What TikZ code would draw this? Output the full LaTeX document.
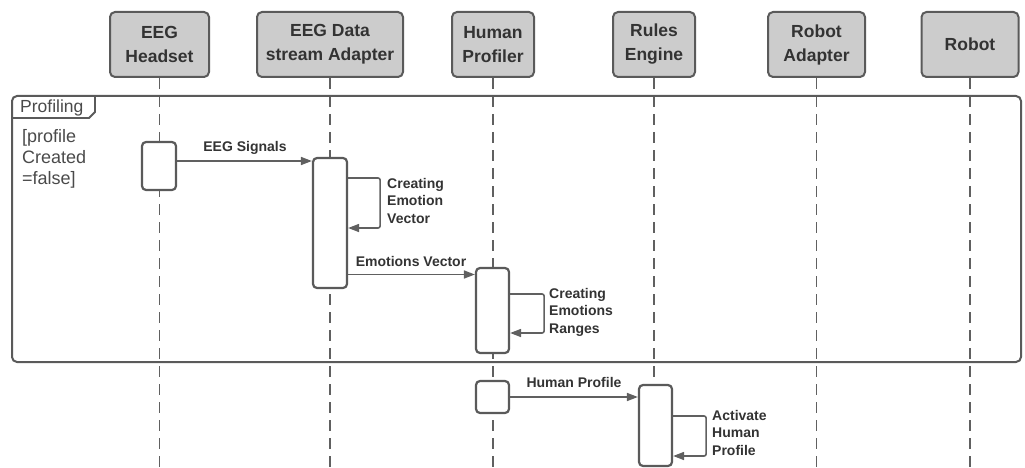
\documentclass[tikz,border=0pt]{standalone}
\usepackage{fontspec}
\setmainfont{Liberation Sans}
\usetikzlibrary{arrows.meta}
\definecolor{hdrfill}{HTML}{CCCCCC}
\definecolor{edgec}{HTML}{5A5A5A}
\definecolor{linec}{HTML}{606060}
\definecolor{txtc}{HTML}{333333}
\definecolor{guardc}{HTML}{4A4A4A}
\begin{document}
\begin{tikzpicture}[x=1pt,y=-1pt,
 hdr/.style={draw=edgec, fill=hdrfill, line width=2pt, rounded corners=5pt, align=center,
   font=\fontsize{17.5}{24}\selectfont\bfseries, text=txtc, inner sep=0pt},
 act/.style={draw=edgec, fill=white, line width=2.2pt, rounded corners=4pt, inner sep=0pt},
 life/.style={draw=linec, line width=1.5pt, dash pattern=on 11pt off 7pt},
 msg/.style={draw=linec, line width=1.6pt, -{Triangle[length=11pt,width=8pt]}},
 lbl/.style={font=\fontsize{14}{17.5}\selectfont\bfseries, text=txtc, inner sep=0pt, align=left},
 frm/.style={draw=edgec, line width=2pt},
]
\useasboundingbox (0,0) rectangle (1025,468);

% headers
\node[hdr, minimum width=99pt, minimum height=65pt] (h1) at (159.5,44.5) {EEG\\Headset};
\node[hdr, minimum width=146pt, minimum height=65pt] (h2) at (330,44.5) {EEG Data\\stream Adapter};
\node[hdr, minimum width=82pt, minimum height=65pt] (h3) at (493,44.5) {Human\\Profiler};
\node[hdr, minimum width=82pt, minimum height=65pt] (h4) at (654,44.5) {Rules\\Engine};
\node[hdr, minimum width=97pt, minimum height=65pt] (h5) at (816.5,44.5) {Robot\\Adapter};
\node[hdr, minimum width=97pt, minimum height=65pt] (h6) at (970,44.5) {Robot};

% lifeline ends
\coordinate (bot) at (0,470);
\foreach \h in {h1,h2,h3,h4,h5,h6}{
  \draw[life] (\h.south) -- (\h.south |- bot);
}

% frame
\draw[frm, rounded corners=5pt] (12,96) rectangle (1021,362);
\draw[frm, line width=1.8pt] (95,96) -- (95,112) -- (89,118) -- (12,118);
\node[anchor=base west, inner sep=0pt, font=\fontsize{17.5}{20}\selectfont, text=guardc] (tab) at (20,113) {Profiling};
\node[anchor=north west, inner sep=0pt, align=left, font=\fontsize{18}{21}\selectfont, text=guardc] (guard) at (22,129) {[profile\\Created\\=false]};

% activation boxes
\node[act, minimum width=34pt, minimum height=48pt] (a1) at (159,166) {};
\node[act, minimum width=34pt, minimum height=130pt] (a2) at (330,223) {};
\node[act, minimum width=33pt, minimum height=85pt] (a3) at (492.5,310.5) {};
\node[act, minimum width=33pt, minimum height=32pt] (a4) at (492.5,397) {};
\node[act, minimum width=33pt, minimum height=81pt] (a5) at (655.5,425.5) {};

% message levels
\coordinate (m1) at (0,161);
\coordinate (m2) at (0,274.5);
\coordinate (m3) at (0,397);
\coordinate (s1a) at (0,178);
\coordinate (s1b) at (0,228);
\coordinate (s2a) at (0,294);
\coordinate (s2b) at (0,333);
\coordinate (s3a) at (0,416);
\coordinate (s3b) at (0,456);

\draw[msg] (a1.east |- m1) -- (a2.west |- m1);
\node[lbl, anchor=base] (l1) at (245,152) {EEG Signals};

\draw[msg, rounded corners=2pt] (a2.east |- s1a) -- ++(32,0) |- (a2.east |- s1b);
\node[lbl, anchor=north west] (l2) at (387,178) {Creating\\Emotion\\Vector};

\draw[msg] (a2.east |- m2) -- (a3.west |- m2);
\node[lbl, anchor=base] (l3) at (411,266) {Emotions Vector};

\draw[msg, rounded corners=2pt] (a3.east |- s2a) -- ++(34,0) |- (a3.east |- s2b);
\node[lbl, anchor=north west] (l4) at (549,288) {Creating\\Emotions\\Ranges};

\draw[msg] (a4.east |- m3) -- (a5.west |- m3);
\node[lbl, anchor=base] (l5) at (574,387) {Human Profile};

\draw[msg, rounded corners=2pt] (a5.east |- s3a) -- ++(33,0) |- (a5.east |- s3b);
\node[lbl, anchor=north west] (l6) at (712,410) {Activate\\Human\\Profile};
\end{tikzpicture}
\end{document}
